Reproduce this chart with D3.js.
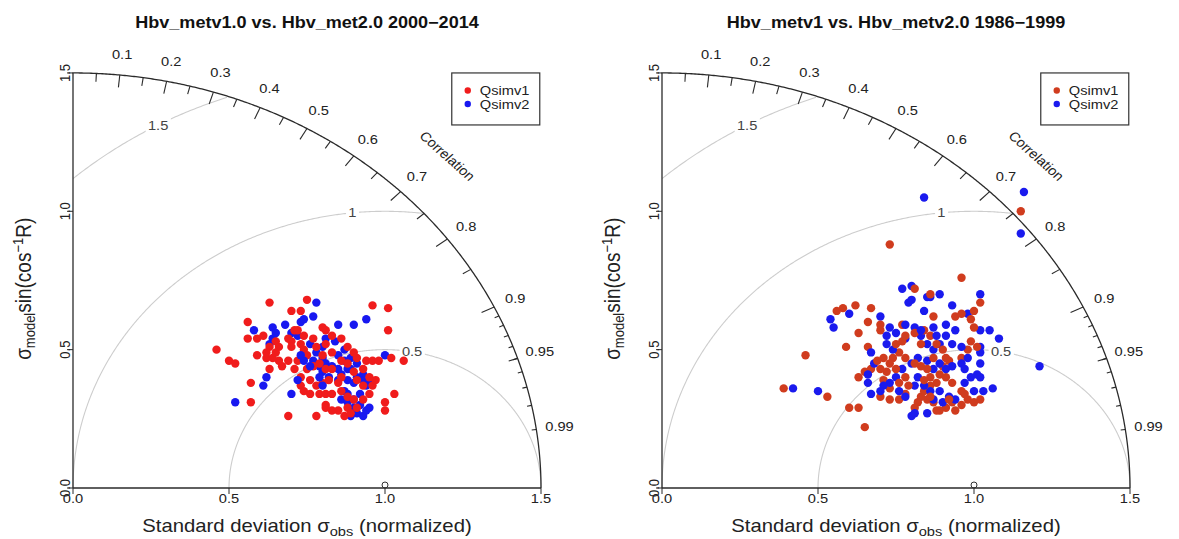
<!DOCTYPE html>
<html>
<head>
<meta charset="utf-8">
<script src="https://cdn.jsdelivr.net/npm/d3@7"></script>
<style>
  body { margin: 0; background: #fff; }
  svg { font-family: "Liberation Sans", Arial, Helvetica, sans-serif; display: block; }
</style>
</head>
<body>
<svg id="chart" width="1179" height="539"></svg>
<script>
// Chart text
const titles = [
  "Hbv_metv1.0 vs. Hbv_met2.0 2000\u22122014",
  "Hbv_metv1 vs. Hbv_metv2.0 1986\u22121999"
];
const seriesNames = ["Qsimv1", "Qsimv2"];

// Axis / grid values
const sdTicks = [0, 0.5, 1.0, 1.5];
const corLabels = [0.1, 0.2, 0.3, 0.4, 0.5, 0.6, 0.7, 0.8, 0.9, 0.95, 0.99];
const corBigTicks = [0.1, 0.2, 0.3, 0.4, 0.5, 0.6, 0.7, 0.8, 0.9];
const corMedTicks = [0.05, 0.15, 0.25, 0.35, 0.45, 0.55, 0.65, 0.75, 0.85, 0.95];
const corSmallTicks = [0.91, 0.92, 0.93, 0.94, 0.95, 0.96, 0.97, 0.98, 0.99];
const rmsLevels = [0.5, 1, 1.5];
const refSd = 1.0;
const maxSd = 1.5;

// Points: [sigma_model * R, sigma_model * sin(acos R)], normalized
const left1 = [
  [0.63,0.67],[0.75,0.68],[0.96,0.66],[1.01,0.65],[0.70,0.64],[0.73,0.64],[0.56,0.60],[0.61,0.55],
  [0.59,0.54],[1.01,0.57],[0.56,0.54],[0.46,0.50],[0.50,0.46],[0.52,0.45],[1.02,0.47],[1.06,0.46],
  [0.57,0.38],[0.57,0.31],[0.69,0.26],[0.78,0.26],[0.81,0.30],[1.00,0.28],[1.03,0.34],[1.00,0.31],
  [0.63,0.51],[0.65,0.53],[0.66,0.51],[0.69,0.54],[0.71,0.57],[0.72,0.57],[0.70,0.53],[0.73,0.52],
  [0.74,0.50],[0.75,0.48],[0.72,0.46],[0.69,0.46],[0.66,0.46],[0.64,0.47],[0.62,0.47],[0.63,0.43],
  [0.67,0.44],[0.71,0.43],[0.73,0.40],[0.75,0.43],[0.77,0.44],[0.79,0.45],[0.81,0.43],[0.82,0.39],
  [0.85,0.38],[0.80,0.38],[0.78,0.37],[0.76,0.39],[0.73,0.37],[0.74,0.35],[0.76,0.34],[0.79,0.34],
  [0.81,0.34],[0.83,0.34],[0.86,0.35],[0.88,0.33],[0.90,0.32],[0.88,0.29],[0.85,0.28],[0.83,0.28],
  [0.81,0.29],[0.87,0.26],[0.89,0.27],[0.91,0.29],[0.93,0.32],[0.95,0.34],[0.96,0.37],[0.97,0.39],
  [0.95,0.40],[0.93,0.43],[0.94,0.46],[0.96,0.46],[0.98,0.46],[0.91,0.47],[0.90,0.49],[0.88,0.51],
  [0.86,0.54],[0.83,0.55],[0.81,0.57],[0.80,0.58],[0.81,0.52],[0.83,0.49],[0.86,0.46],[0.88,0.45],
  [0.90,0.42],[0.91,0.39],[0.93,0.37],[0.86,0.40],[0.83,0.43],[0.80,0.48],[0.78,0.51],[0.77,0.54],
  [0.74,0.55],[0.70,0.51],[0.65,0.49],[0.59,0.48],[0.62,0.49]
];
const left2 = [
  [0.78,0.67],[0.85,0.59],[0.90,0.59],[0.94,0.61],[1.00,0.48],[0.62,0.40],[0.61,0.37],[0.70,0.34],
  [0.52,0.31],[0.93,0.26],[0.58,0.57],[0.64,0.58],[0.68,0.59],[0.70,0.56],[0.73,0.60],[0.74,0.61],
  [0.77,0.62],[0.64,0.54],[0.63,0.52],[0.65,0.56],[0.72,0.55],[0.76,0.52],[0.78,0.49],[0.80,0.47],
  [0.81,0.45],[0.83,0.44],[0.85,0.43],[0.87,0.46],[0.89,0.47],[0.91,0.45],[0.88,0.43],[0.86,0.41],
  [0.85,0.39],[0.82,0.40],[0.80,0.42],[0.79,0.44],[0.77,0.46],[0.88,0.39],[0.90,0.38],[0.91,0.40],
  [0.93,0.41],[0.94,0.37],[0.92,0.34],[0.90,0.32],[0.88,0.34],[0.87,0.35],[0.86,0.32],[0.88,0.31],
  [0.90,0.29],[0.92,0.30],[0.94,0.28],[0.95,0.29],[0.91,0.27],[0.89,0.26],[0.80,0.51],[0.81,0.54],
  [0.84,0.53],[0.87,0.50],[0.85,0.48],[0.89,0.43],[0.93,0.39],[0.95,0.38],[0.79,0.40],[0.80,0.37],
  [0.76,0.44],[0.74,0.46],[0.73,0.48],[0.72,0.39]
];
const right1 = [
  [1.15,1.00],[0.73,0.88],[0.96,0.76],[0.39,0.36],[0.46,0.48],[0.53,0.33],[0.59,0.51],[0.60,0.29],
  [0.56,0.64],[0.58,0.65],[0.62,0.66],[0.63,0.29],[0.65,0.22],[0.67,0.65],[0.63,0.56],[0.66,0.60],
  [0.70,0.57],[0.70,0.59],[0.66,0.51],[0.65,0.42],[0.67,0.43],[0.63,0.40],[0.71,0.39],[0.73,0.36],
  [0.70,0.33],[0.77,0.59],[0.81,0.72],[0.86,0.70],[0.87,0.62],[0.94,0.62],[0.96,0.63],[1.00,0.64],
  [1.02,0.67],[0.99,0.61],[1.00,0.58],[0.99,0.53],[1.01,0.51],[0.98,0.50],[0.96,0.47],[0.92,0.46],
  [0.90,0.44],[0.89,0.41],[0.91,0.40],[0.93,0.38],[0.96,0.35],[0.97,0.34],[0.98,0.32],[1.00,0.31],
  [1.02,0.32],[0.93,0.31],[0.91,0.29],[0.89,0.28],[0.87,0.31],[0.85,0.32],[0.83,0.33],[0.82,0.31],
  [0.81,0.29],[0.84,0.35],[0.86,0.37],[0.88,0.38],[0.86,0.40],[0.85,0.43],[0.83,0.44],[0.81,0.45],
  [0.78,0.47],[0.76,0.49],[0.75,0.52],[0.77,0.53],[0.78,0.55],[0.81,0.56],[0.84,0.57],[0.86,0.55],
  [0.88,0.52],[0.90,0.50],[0.83,0.52],[0.74,0.47],[0.73,0.45],[0.75,0.43],[0.72,0.42],[0.70,0.43],
  [0.71,0.47],[0.69,0.46],[0.76,0.38],[0.78,0.40],[0.79,0.37],[0.78,0.34],[0.76,0.32],[0.73,0.32],
  [0.87,0.47],[0.91,0.47],[0.84,0.39],[0.86,0.33],[0.88,0.28],[0.92,0.32],[0.94,0.28],[0.96,0.30]
];
const right2 = [
  [0.84,1.05],[1.16,1.07],[1.15,0.92],[1.21,0.44],[0.42,0.36],[0.50,0.35],[0.54,0.61],[0.55,0.58],
  [0.60,0.63],[0.70,0.62],[0.77,0.72],[0.80,0.73],[0.79,0.67],[0.80,0.68],[0.84,0.64],[0.85,0.69],
  [0.86,0.69],[0.89,0.70],[0.93,0.66],[1.02,0.70],[0.98,0.63],[1.02,0.57],[1.05,0.57],[1.08,0.54],
  [1.02,0.51],[1.02,0.49],[1.02,0.45],[1.01,0.41],[1.02,0.40],[1.06,0.36],[1.03,0.35],[1.00,0.35],
  [0.67,0.49],[0.68,0.45],[0.66,0.41],[0.66,0.38],[0.67,0.34],[0.80,0.26],[0.73,0.58],[0.72,0.55],
  [0.75,0.56],[0.78,0.54],[0.81,0.58],[0.83,0.55],[0.85,0.52],[0.87,0.50],[0.89,0.52],[0.91,0.55],
  [0.93,0.52],[0.96,0.51],[0.98,0.47],[0.96,0.45],[0.93,0.44],[0.91,0.43],[0.89,0.45],[0.87,0.43],
  [0.85,0.46],[0.82,0.47],[0.80,0.45],[0.77,0.43],[0.75,0.40],[0.73,0.38],[0.71,0.37],[0.70,0.35],
  [0.72,0.52],[0.74,0.50],[0.82,0.40],[0.84,0.37],[0.81,0.37],[0.86,0.35],[0.89,0.35],[0.92,0.33],
  [0.94,0.32],[0.90,0.31],[0.87,0.32],[0.85,0.27],[0.81,0.27],[0.87,0.58],[0.91,0.59],[0.94,0.57],
  [0.88,0.55],[0.83,0.57],[0.78,0.59],[0.97,0.43],[0.99,0.40],[0.97,0.38],[0.78,0.33],[0.76,0.35]
];

// Layout
const SX = 1.128;            // the source raster is stretched horizontally
const RX = 312, RY = 276.7;  // pixels per unit
const OY = 488;
const panels = [
  { title: titles[0], ox: 73,  s1: left1,  s2: left2,  c1: "#f01c1c", c2: "#1818f0" },
  { title: titles[1], ox: 662, s1: right1, s2: right2, c1: "#d03c1e", c2: "#1a1aee" }
];
const rmsLabelAngle = { 0.5: 80, 1: 96, 1.5: 119 };

const svg = d3.select("#chart");

// Text helper: stretched like the source picture
function label(g, px, py, txt, o = {}) {
  const grp = g.append("g")
    .attr("transform", `translate(${px},${py}) scale(${SX},1)` + (o.rotate ? ` rotate(${o.rotate})` : ""));
  const t = grp.append("text")
    .attr("text-anchor", o.anchor || "middle")
    .attr("dy", o.dy || "0.35em")
    .attr("font-size", o.size || 13)
    .attr("fill", o.fill || "#222")
    .attr("font-weight", o.weight || "normal")
    .text(txt);
  if (o.box) {
    const b = t.node().getBBox();
    grp.insert("rect", "text")
      .attr("x", b.x - 2).attr("y", b.y)
      .attr("width", b.width + 4).attr("height", b.height)
      .attr("fill", "#fff");
  }
  return t;
}

function drawPanel(p) {
  const x = d3.scaleLinear().domain([0, maxSd]).range([p.ox, p.ox + maxSd * RX]);
  const y = d3.scaleLinear().domain([0, maxSd]).range([OY, OY - maxSd * RY]);
  const line = d3.line().x(d => x(d[0])).y(d => y(d[1]));
  const g = svg.append("g");
  const polar = (r, a) => [r * Math.cos(a), r * Math.sin(a)];

  // centred RMS difference arcs
  rmsLevels.forEach(gm => {
    const pts = d3.range(0, Math.PI + 0.005, 0.005)
      .map(t => [refSd + gm * Math.cos(t), gm * Math.sin(t)])
      .filter(d => d[0] >= -1e-6 && d[0] * d[0] + d[1] * d[1] <= maxSd * maxSd + 1e-6);
    g.append("path")
      .attr("d", line(pts))
      .attr("fill", "none")
      .attr("stroke", "#cdcdcd")
      .attr("stroke-width", 1.1);
  });
  rmsLevels.forEach(gm => {
    const a = rmsLabelAngle[gm] * Math.PI / 180;
    label(g, x(refSd + gm * Math.cos(a)), y(gm * Math.sin(a)), String(gm),
      { size: 13, fill: "#444", box: true });
  });

  // outer correlation arc
  const arcPts = d3.range(0, Math.PI / 2 + 0.002, 0.004).map(a => polar(maxSd, a));
  arcPts.push([0, maxSd]);
  g.append("path").attr("d", line(arcPts))
    .attr("fill", "none").attr("stroke", "#2a2a2a").attr("stroke-width", 1.3);

  const tickSets = [[corBigTicks, 0.97], [corMedTicks, 0.98], [corSmallTicks, 0.99]];
  tickSets.forEach(([vals, inner]) => {
    vals.forEach(r => {
      const a = Math.acos(r);
      g.append("path")
        .attr("d", line([polar(maxSd, a), polar(maxSd * inner, a)]))
        .attr("stroke", "#2a2a2a").attr("stroke-width", 1.1);
    });
  });
  corLabels.forEach(r => {
    const pt = polar(maxSd * 1.05, Math.acos(r));
    label(g, x(pt[0]), y(pt[1]), String(r), { size: 13 });
  });
  label(g, x(maxSd * 0.8), y(maxSd * 0.8), "Correlation", { size: 13, rotate: 45 });

  // axes
  g.append("path").attr("d", line([[0, 0], [maxSd, 0]]))
    .attr("stroke", "#2a2a2a").attr("stroke-width", 1.3);
  g.append("path").attr("d", line([[0, 0], [0, maxSd]]))
    .attr("stroke", "#2a2a2a").attr("stroke-width", 1.3);
  sdTicks.forEach(v => {
    g.append("line").attr("x1", x(v)).attr("x2", x(v)).attr("y1", OY).attr("y2", OY + 6)
      .attr("stroke", "#2a2a2a");
    g.append("line").attr("y1", y(v)).attr("y2", y(v)).attr("x1", p.ox).attr("x2", p.ox - 6)
      .attr("stroke", "#2a2a2a");
    label(g, x(v), OY + 10, v.toFixed(1), { size: 13, dy: "0.35em" });
    label(g, p.ox - 8, y(v), v.toFixed(1), { size: 13, rotate: -90, dy: "0.35em" });
  });

  // reference point
  g.append("circle").attr("cx", x(refSd)).attr("cy", y(0) - 3).attr("r", 3)
    .attr("fill", "none").attr("stroke", "#333").attr("stroke-width", 1);

  // axis titles
  const xt = label(g, x(0.75), OY + 38, "", { size: 18 });
  xt.append("tspan").text("Standard deviation \u03c3");
  xt.append("tspan").attr("font-size", 13).attr("dy", 4).text("obs");
  xt.append("tspan").attr("dy", -4).text(" (normalized)");

  const yt = label(g, p.ox - 50, y(0.72), "", { size: 19, rotate: -90 });
  yt.append("tspan").text("\u03c3");
  yt.append("tspan").attr("font-size", 13).attr("dy", 4).text("model");
  yt.append("tspan").attr("dy", -4).text("sin(cos");
  yt.append("tspan").attr("font-size", 13).attr("dy", -7).text("\u22121");
  yt.append("tspan").attr("dy", 7).text("R)");

  // title
  label(g, x(0.75), 22, p.title, { size: 16, weight: "bold", fill: "#111" });

  // points, drawn per station: model 1 then model 2
  const n = Math.max(p.s1.length, p.s2.length);
  const gp = g.append("g");
  d3.range(n).forEach(i => {
    if (p.s1[i]) gp.append("circle").attr("cx", x(p.s1[i][0])).attr("cy", y(p.s1[i][1]))
      .attr("r", 4.2).attr("fill", p.c1);
    if (p.s2[i]) gp.append("circle").attr("cx", x(p.s2[i][0])).attr("cy", y(p.s2[i][1]))
      .attr("r", 4.2).attr("fill", p.c2);
  });

  // legend
  const lx = x(1.214), ly = y(maxSd);
  g.append("rect").attr("x", lx).attr("y", ly).attr("width", 88).attr("height", 52)
    .attr("fill", "#fff").attr("stroke", "#333").attr("stroke-width", 1.2);
  [p.c1, p.c2].forEach((c, i) => {
    g.append("circle").attr("cx", lx + 16).attr("cy", ly + 17.5 + i * 13.5).attr("r", 3.2).attr("fill", c);
    label(g, lx + 28, ly + 17.5 + i * 13.5, seriesNames[i], { size: 13, anchor: "start" });
  });
}

panels.forEach(drawPanel);
</script>
</body>
</html>
